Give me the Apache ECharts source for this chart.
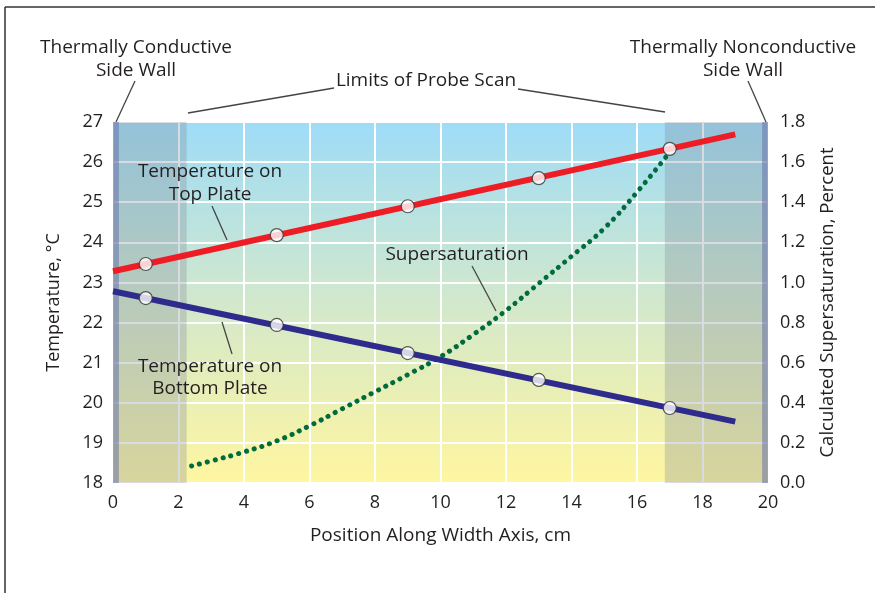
<!DOCTYPE html>
<html>
<head>
<meta charset="utf-8">
<script src="https://cdn.jsdelivr.net/npm/echarts@6/dist/echarts.min.js"></script>
<style>html,body{margin:0;padding:0;background:#fff}#c{width:875px;height:593px}</style>
</head>
<body>
<div id="c"></div>
<script>
// ---- data ----
const topPlateLine = [[0, 23.28], [19, 26.69]];
const topPlatePoints = [[1, 23.46], [5, 24.18], [9, 24.9], [13, 25.6], [17, 26.33]];
const bottomPlateLine = [[0, 22.78], [19, 19.53]];
const bottomPlatePoints = [[1, 22.61], [5, 21.94], [9, 21.24], [13, 20.57], [17, 19.87]];
const supersaturation = [[2.4, 0.085], [3, 0.11], [4, 0.155], [5, 0.21], [6, 0.285], [7, 0.37], [8, 0.455], [9, 0.54], [10, 0.63], [11, 0.74], [12, 0.86], [13, 0.995], [14, 1.13], [15, 1.27], [16, 1.45], [17, 1.65]];
const wallLeft = [0, 0.18];
const wallRight = [19.82, 20];
const scanShadeLeft = [0, 2.25];
const scanShadeRight = [16.85, 20];
const xRange = [0, 20, 2];
const tempRange = [18, 27, 1];
const satRange = [0, 1.8, 0.2];

const FONT = '"Open Sans", "Noto Sans", sans-serif';
const TXT = '#231f20';
const chart = echarts.init(document.getElementById('c'), null, {renderer: 'canvas'});

function txt(x, y, s, align) {
  return {type: 'text', x: x, y: y, style: {text: s, fill: TXT, font: '19px ' + FONT, textAlign: align || 'center', textVerticalAlign: 'middle'}, z: 100};
}
function seg(x1, y1, x2, y2) {
  return {type: 'line', shape: {x1: x1, y1: y1, x2: x2, y2: y2}, style: {stroke: '#444', lineWidth: 1.3}, z: 100};
}

const shadeColor = 'rgba(125,135,150,0.30)';
const wallColor = 'rgba(105,115,170,0.55)';

chart.setOption({
  animation: false,
  backgroundColor: '#fff',
  grid: {
    left: 113, right: 107, top: 122, bottom: 110, show: true, borderWidth: 0,
    backgroundColor: new echarts.graphic.LinearGradient(0, 0, 0, 1, [
      {offset: 0, color: '#9edcf7'},
      {offset: 0.5, color: '#d2e8cc'},
      {offset: 1, color: '#fff6a0'}
    ])
  },
  xAxis: {
    type: 'value', min: xRange[0], max: xRange[1], interval: xRange[2],
    axisLine: {show: false}, axisTick: {show: false},
    axisLabel: {color: TXT, fontFamily: FONT, fontSize: 18, margin: 11},
    splitLine: {show: true, lineStyle: {color: '#ffffff', width: 2}},
    name: 'Position Along Width Axis, cm', nameLocation: 'middle', nameGap: 43,
    nameTextStyle: {color: TXT, fontFamily: FONT, fontSize: 19}
  },
  yAxis: [{
    type: 'value', min: tempRange[0], max: tempRange[1], interval: tempRange[2],
    axisLine: {show: false}, axisTick: {show: false},
    axisLabel: {color: TXT, fontFamily: FONT, fontSize: 18, margin: 10},
    splitLine: {show: true, lineStyle: {color: '#ffffff', width: 2}},
    name: 'Temperature, °C', nameLocation: 'middle', nameGap: 50, nameRotate: 90,
    nameTextStyle: {color: TXT, fontFamily: FONT, fontSize: 18}
  }, {
    type: 'value', min: satRange[0], max: satRange[1], interval: satRange[2],
    axisLine: {show: false}, axisTick: {show: false}, splitLine: {show: false},
    axisLabel: {color: TXT, fontFamily: FONT, fontSize: 18, margin: 12, formatter: v => v.toFixed(1)},
    name: 'Calculated Supersaturation, Percent', nameLocation: 'middle', nameGap: 50, nameRotate: 90,
    nameTextStyle: {color: TXT, fontFamily: FONT, fontSize: 18.5}
  }],
  series: [
    {type: 'line', data: topPlateLine, showSymbol: false, lineStyle: {color: '#ee1c25', width: 6, cap: 'butt'}, z: 3, silent: true},
    {type: 'line', data: bottomPlateLine, showSymbol: false, lineStyle: {color: '#2e2b8c', width: 6, cap: 'butt'}, z: 3, silent: true},
    {type: 'line', yAxisIndex: 1, data: supersaturation, smooth: true, showSymbol: false,
     lineStyle: {color: '#006b3c', width: 5, type: [0.1, 8], cap: 'round'}, z: 2, silent: true},
    {type: 'scatter', data: topPlatePoints, symbol: 'circle', symbolSize: 13,
     itemStyle: {color: '#ffffff', borderColor: '#333', borderWidth: 1.2}, z: 4, silent: true},
    {type: 'scatter', data: bottomPlatePoints, symbol: 'circle', symbolSize: 13,
     itemStyle: {color: '#ffffff', borderColor: '#333', borderWidth: 1.2}, z: 4, silent: true},
    {type: 'line', data: [], z: 10, silent: true,
     markArea: {silent: true, itemStyle: {color: shadeColor},
       data: [
         [{xAxis: scanShadeLeft[0], yAxis: tempRange[0]}, {xAxis: scanShadeLeft[1], yAxis: tempRange[1]}],
         [{xAxis: scanShadeRight[0], yAxis: tempRange[0]}, {xAxis: scanShadeRight[1], yAxis: tempRange[1]}]
       ]}},
    {type: 'line', data: [], z: 11, silent: true,
     markArea: {silent: true, itemStyle: {color: wallColor},
       data: [
         [{xAxis: wallLeft[0], yAxis: tempRange[0]}, {xAxis: wallLeft[1], yAxis: tempRange[1]}],
         [{xAxis: wallRight[0], yAxis: tempRange[0]}, {xAxis: wallRight[1], yAxis: tempRange[1]}]
       ]}}
  ],
  graphic: [
    {type: 'line', shape: {x1: 5, y1: 7, x2: 875, y2: 7}, style: {stroke: '#333', lineWidth: 1.5}},
    {type: 'line', shape: {x1: 5, y1: 7, x2: 5, y2: 593}, style: {stroke: '#333', lineWidth: 1.5}},
    txt(136, 48, 'Thermally Conductive'), txt(136, 71, 'Side Wall'), seg(135, 81, 116, 122),
    txt(743, 48, 'Thermally Nonconductive'), txt(743, 71, 'Side Wall'), seg(748, 81, 766, 122),
    txt(426, 81, 'Limits of Probe Scan'), seg(188, 113, 334, 88), seg(518, 89, 665, 112),
    txt(210, 172, 'Temperature on'), txt(210, 195, 'Top Plate'), seg(212, 206, 227, 240),
    txt(457, 255, 'Supersaturation'), seg(472, 266, 496, 311),
    txt(210, 367, 'Temperature on'), txt(210, 389, 'Bottom Plate'), seg(222, 322, 232, 354)
  ]
});
</script>
</body>
</html>
